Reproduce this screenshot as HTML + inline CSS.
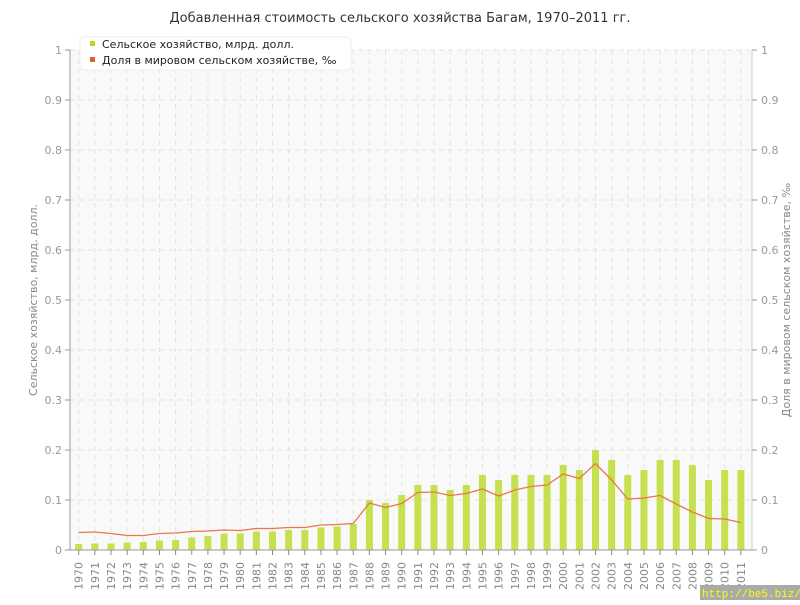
<!DOCTYPE html><html><head><meta charset="utf-8"><style>body{margin:0;background:#fff}svg{font-family:"DejaVu Sans","Liberation Sans",sans-serif}</style></head><body>
<svg id="s" width="800" height="600" xmlns="http://www.w3.org/2000/svg">
<rect x="70" y="50" width="682" height="500" fill="#f9f9f9"/>
<text x="400" y="22" text-anchor="middle" font-size="13" fill="#333">Добавленная стоимость сельского хозяйства Багам, 1970–2011 гг.</text>
<g id="g"></g>
<text transform="translate(37,300) rotate(-90)" text-anchor="middle" font-size="11" fill="#888">Сельское хозяйство, млрд. долл.</text>
<text transform="translate(790,300) rotate(-90)" text-anchor="middle" font-size="11" fill="#888">Доля в мировом сельском хозяйстве, ‰</text>
<rect x="80" y="37" width="271" height="33" rx="4" fill="#fff" stroke="#eee"/>
<rect x="90" y="41" width="5" height="5" fill="#b5d92b"/><text x="102" y="48" font-size="11" fill="#222">Сельское хозяйство, млрд. долл.</text>
<rect x="90" y="57" width="5" height="5" fill="#e0622a"/><text x="102" y="64" font-size="11" fill="#222">Доля в мировом сельском хозяйстве, ‰</text>
<rect x="700" y="585" width="100" height="15" fill="#aaa"/><text x="702" y="597" font-size="11" fill="#ff0" font-family="Liberation Mono,monospace">http://be5.biz/</text>
</svg>
<script>
var b=[.012,.013,.013,.015,.016,.019,.02,.025,.028,.033,.033,.037,.037,.04,.04,.045,.047,.052,.1,.094,.11,.13,.13,.12,.13,.15,.14,.15,.15,.15,.17,.16,.2,.18,.15,.16,.18,.18,.17,.14,.16,.16];
var l=[.035,.036,.033,.029,.029,.033,.034,.037,.038,.04,.039,.043,.043,.045,.045,.05,.051,.053,.094,.085,.093,.115,.116,.109,.113,.122,.108,.12,.127,.13,.152,.143,.173,.14,.102,.104,.109,.092,.076,.063,.062,.055];
var h='';function X(i){return 78.7+i*16.15}function Y(v){return 550-v*500}
for(var k=1;k<=10;k++){var y=Y(k/10);h+='<line x1="70" x2="752" y1="'+y+'" y2="'+y+'" stroke="#e3e3e3" stroke-dasharray="5,4"/>';}
for(var i=0;i<42;i++){h+='<line x1="'+X(i)+'" x2="'+X(i)+'" y1="50" y2="550" stroke="#e3e3e3" stroke-dasharray="5,4"/>';}
for(var i=0;i<42;i++){h+='<rect x="'+(X(i)-3.5)+'" y="'+Y(b[i])+'" width="7" height="'+(b[i]*500)+'" fill="#c5e150"/>';
h+='<text transform="translate('+(X(i)+4)+',590) rotate(-90)" font-size="11" fill="#888">'+(1970+i)+'</text>';
h+='<line x1="'+X(i)+'" x2="'+X(i)+'" y1="550" y2="555" stroke="#888"/>';}
h+='<polyline fill="none" stroke="#e8784a" stroke-width="1.3" points="'+l.map(function(v,i){return X(i)+','+Y(v)}).join(' ')+'"/>';
h+='<line x1="70" x2="70" y1="50" y2="550" stroke="#999"/><line x1="752" x2="752" y1="50" y2="550" stroke="#ccc"/><line x1="70" x2="752" y1="550" y2="550" stroke="#999"/>';
for(var k=0;k<=10;k++){var y=Y(k/10),t=k==0?'0':k==10?'1':'0.'+k;
h+='<line x1="65" x2="70" y1="'+y+'" y2="'+y+'" stroke="#999"/><text x="62" y="'+(y+4)+'" text-anchor="end" font-size="11" fill="#999">'+t+'</text>';
h+='<line x1="752" x2="757" y1="'+y+'" y2="'+y+'" stroke="#999"/><text x="761" y="'+(y+4)+'" font-size="11" fill="#999">'+t+'</text>';}
document.getElementById('g').innerHTML=h;
</script></body></html>
